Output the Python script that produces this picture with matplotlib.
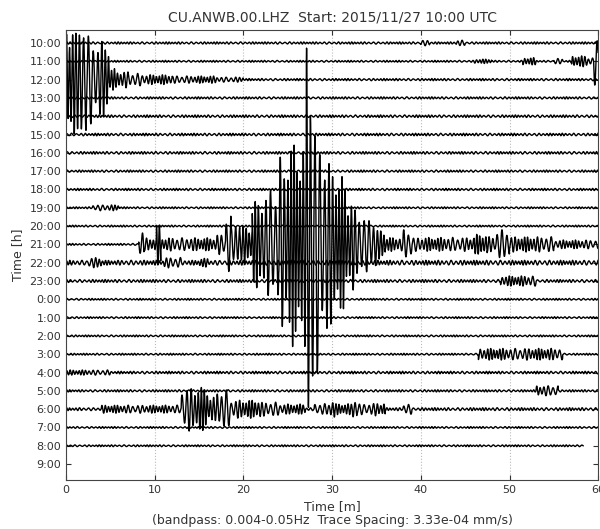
import matplotlib
matplotlib.use('Agg')
import matplotlib.pyplot as plt
import numpy as np

# hour labels, one row per hour (top to bottom)
hours = ['10:00', '11:00', '12:00', '13:00', '14:00', '15:00', '16:00', '17:00',
         '18:00', '19:00', '20:00', '21:00', '22:00', '23:00', '0:00', '1:00',
         '2:00', '3:00', '4:00', '5:00', '6:00', '7:00', '8:00', '9:00']

# background noise level of every row (in trace spacings), None = no data
noise = [0.06, 0.05, 0.06, 0.06, 0.07, 0.07, 0.07, 0.06,
         0.06, 0.05, 0.05, 0.05, 0.13, 0.08, 0.05, 0.05,
         0.05, 0.05, 0.07, 0.06, 0.08, 0.05, 0.05, None]

# minute where the record of a row stops
row_end = [60] * 22 + [58.3, 0]

# bursts: (row, start minute, end minute, amplitude)
bursts = [
    (0, 40, 41, 0.15), (0, 44, 45, 0.15),
    (1, 46, 48, 0.12), (1, 51.5, 53, 0.2), (1, 55, 56, 0.15),
    (1, 57, 58.8, 0.3), (1, 58.8, 59.5, 0.2), (1, 59.5, 60, 1.3),
    (2, 0, 0.5, 2.6), (2, 0.5, 1.0, 3.8), (2, 1.0, 1.6, 2.7), (2, 1.6, 2.3, 3.8),
    (2, 2.3, 3.0, 2.5), (2, 3.0, 4.9, 2.1), (2, 4.9, 5.5, 0.6), (2, 5.5, 7, 0.45),
    (2, 7, 8.5, 0.35), (2, 8.5, 12, 0.27), (2, 12, 17, 0.2), (2, 17, 20, 0.14),
    (9, 3, 6, 0.16),
    (11, 8.2, 8.8, 0.8), (11, 8.8, 10.2, 0.35), (11, 10.2, 10.7, 1.1),
    (11, 10.7, 17, 0.36), (11, 17, 18, 0.55), (11, 18, 18.6, 1.8),
    (11, 18.6, 19, 0.9), (11, 19, 19.6, 1.35), (11, 19.6, 21, 1.0),
    (11, 21, 22, 2.4), (11, 22, 23, 2.8), (11, 23, 24, 3.3), (11, 24, 25, 4.8),
    (11, 25, 26, 5.6), (11, 26, 27.1, 5.6), (11, 27.1, 27.9, 11.3),
    (11, 27.9, 28.5, 7.0), (11, 28.5, 29.5, 5.6), (11, 29.5, 30.5, 4.5),
    (11, 30.5, 31.5, 3.7), (11, 31.5, 32.5, 2.6), (11, 32.5, 33.5, 1.9),
    (11, 33.5, 35, 1.5), (11, 35, 36, 0.8), (11, 36, 38, 0.38), (11, 38, 39, 0.8),
    (11, 39, 46, 0.38), (11, 46, 47.5, 0.55), (11, 47.5, 48.5, 0.42),
    (11, 48.5, 50, 0.8), (11, 50, 55, 0.42), (11, 55, 60, 0.24),
    (12, 2.5, 4, 0.28), (12, 11, 13, 0.28), (12, 15, 16, 0.24),
    (13, 49, 53, 0.28),
    (17, 46.5, 56, 0.32),
    (18, 0, 5, 0.14),
    (19, 53, 55.5, 0.28),
    (20, 4, 13, 0.22), (20, 13, 16, 1.2), (20, 16, 17, 0.65), (20, 17, 18.5, 1.05),
    (20, 18.5, 22, 0.5), (20, 22, 24, 0.38), (20, 24, 27, 0.28), (20, 28, 36, 0.3),
    (20, 29.8, 30.3, 0.5), (20, 32.3, 32.8, 0.6), (20, 34.8, 35.3, 0.4),
    (20, 38, 39, 0.28),
]

# period range [s] of the waves that draw the trace shape (0.004-0.05 Hz band)
period_min = 20.0
period_max = 34.0

fig = plt.figure(figsize=(6.0, 5.29), dpi=100)
ax = fig.add_axes([0.11, 0.0926, 0.887, 0.8507])

t = np.arange(0, 3600, 1.0)
mins = t / 60.0
for i in range(len(hours)):
    if noise[i] is None:
        continue
    env = np.full(t.shape, noise[i])
    for b in bursts:
        if b[0] == i:
            sel = (mins >= b[1]) & (mins < b[2])
            env[sel] = np.maximum(env[sel], b[3])
    # swept carrier: frequency wanders inside the pass band
    fmid = 0.5 * (1 / period_min + 1 / period_max)
    fdev = 0.5 * (1 / period_min - 1 / period_max)
    freq = fmid + fdev * np.sin(2 * np.pi * t / 310.0 + 0.7 * i)
    phase = 2 * np.pi * np.cumsum(freq)
    wave = np.sin(phase) * (0.8 + 0.2 * np.sin(2 * np.pi * t / 83.0 + i))
    keep = mins <= row_end[i]
    ax.plot(mins[keep], i - env[keep] * wave[keep], color='k', lw=1.0)

ax.set_xlim(0, 60)
ax.set_ylim(23.87, -0.71)
ax.set_yticks(range(len(hours)))
ax.set_yticklabels(hours)
ax.set_xticks([0, 10, 20, 30, 40, 50, 60])
ax.tick_params(direction='in', top=True, right=True, labelsize=8, colors='#333333')
ax.grid(axis='x', color='#bbbbbb', linestyle=':', lw=0.8)
for s in ax.spines.values():
    s.set_color('#444444')

ax.set_title('CU.ANWB.00.LHZ  Start: 2015/11/27 10:00 UTC', fontsize=10, color='#333333')
ax.set_xlabel('Time [m]\n(bandpass: 0.004-0.05Hz  Trace Spacing: 3.33e-04 mm/s)',
              fontsize=9, color='#333333', linespacing=1.1)
ax.set_ylabel('Time [h]', fontsize=9, color='#333333')

fig.savefig('out.png', dpi=100)
